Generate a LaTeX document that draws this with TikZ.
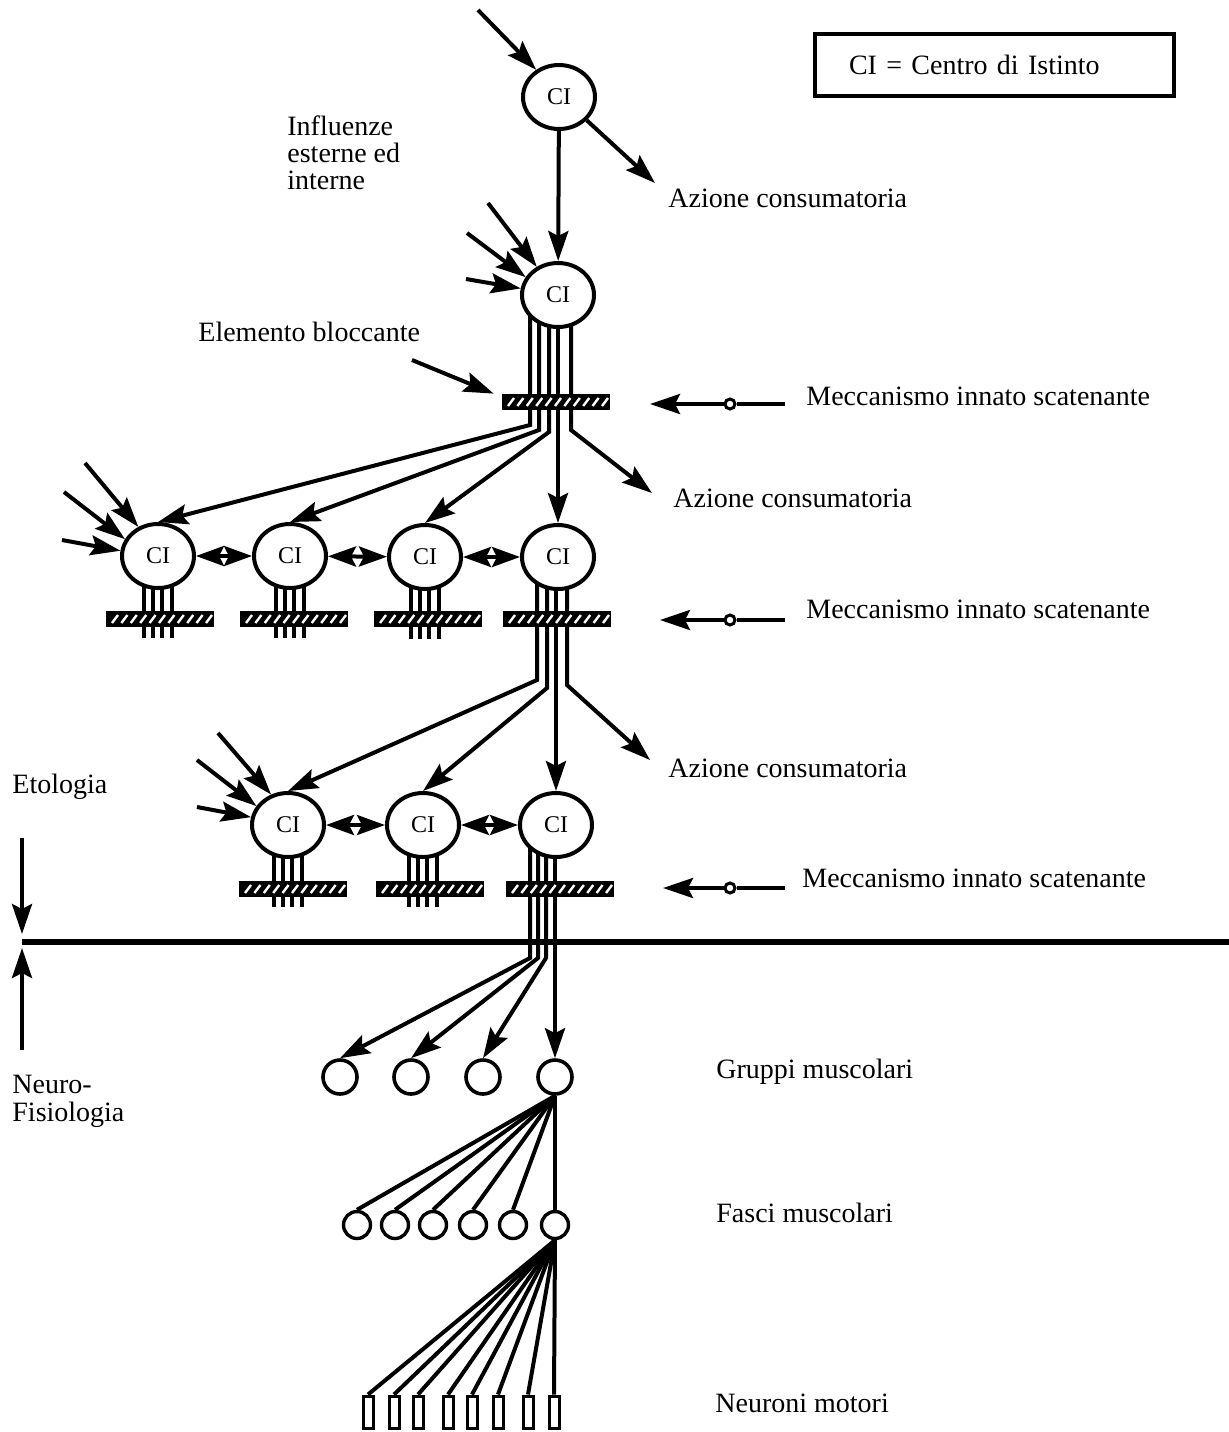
\documentclass[tikz,border=0pt]{standalone}
\usepackage{fontspec}
\setmainfont{Liberation Serif}
\usetikzlibrary{arrows.meta,shapes.geometric,backgrounds,calc}

\begin{document}
\begin{tikzpicture}[x=0.5pt,y=-0.5pt,
  font=\fontsize{14}{13.7}\selectfont,
  ci/.style={ellipse,draw,line width=2pt,fill=white,minimum width=36pt,minimum height=32pt,inner sep=0pt,font=\fontsize{12}{14}\selectfont},
  fibre/.style={line width=2pt},
  arr/.style={line width=2pt,-{Stealth[length=15pt,width=10pt,inset=2.5pt]}},
  twoway/.style={line width=2pt,{Stealth[length=14pt,width=10pt,inset=2.5pt]}-{Stealth[length=14pt,width=10pt,inset=2.5pt]}},
  bloc/.style={rectangle,fill=black,minimum width=54pt,minimum height=8pt,inner sep=0pt,
    path picture={\foreach \k in {0,...,10}
      \draw[white,line width=1.2pt] ([xshift=3pt+\k*4.7pt,yshift=2pt]path picture bounding box.south west) -- ++(3pt,4pt);}},
  lab/.style={anchor=base west,inner sep=0pt},
  knob/.style={circle,draw,line width=1.5pt,fill=white,minimum size=5pt,inner sep=0pt},
  muscle/.style={circle,draw,line width=1.8pt,minimum size=17pt,inner sep=0pt},
  fascio/.style={circle,draw,line width=1.7pt,minimum size=13.5pt,inner sep=0pt},
  motor/.style={rectangle,draw,line width=1.5pt,minimum width=5pt,minimum height=16pt,inner sep=0pt}
]
\useasboundingbox (0,0) rectangle (1229,1432);

% Legend
\node[draw,line width=2pt,text width=145.5pt,inner xsep=17pt,minimum height=31pt,anchor=west,align=left] (legend) at (813,65) {CI =\ Centro di Istinto};

% --- Centres of instinct ---
\node[ci] (ci1) at (559,97) {CI};
\node[ci] (ci2) at (558,295) {CI};

\node[ci] (r2a) at (158,556) {CI};
\node[ci] (r2b) at (290,556) {CI};
\node[ci] (r2c) at (425,557) {CI};
\node[ci] (r2d) at (558,557) {CI};

\node[ci] (r3a) at (288,825) {CI};
\node[ci] (r3b) at (423,825) {CI};
\node[ci] (r3c) at (556,825) {CI};

% Blocking elements
\node[bloc] (bar2) at (556,402) {};
\node[bloc] (b2a) at (160,619) {};
\node[bloc] (b2b) at (294,619) {};
\node[bloc] (b2c) at (428,619) {};
\node[bloc] (b2d) at (557,619) {};
\node[bloc] (b3a) at (293,889) {};
\node[bloc] (b3b) at (430,889) {};
\node[bloc] (b3c) at (560,889) {};

% Muscles and motor neurons
\node[muscle] (m1) at (340,1077) {};
\node[muscle] (m2) at (411,1077) {};
\node[muscle] (m3) at (483,1077) {};
\node[muscle] (m4) at (555,1077) {};

\foreach \i/\x in {1/357,2/395,3/433,4/473,5/513,6/555}
  \node[fascio] (f\i) at (\x,1225) {};

\foreach \i/\x in {1/368,2/394,3/418,4/448,5/472,6/498,7/528,8/554}
  \node[motor] (n\i) at (\x,1412) {};

% Labels
\node[anchor=north west,inner sep=0pt,align=left] (infl) at (287,115) {Influenze\\esterne ed\\interne};
\node[lab] (az1) at (668,207) {Azione consumatoria};
\node[lab] (eb) at (198,341) {Elemento bloccante};
\node[lab] (mis1) at (806,405) {Meccanismo innato scatenante};
\node[lab] (az2) at (673,507) {Azione consumatoria};
\node[lab] (mis2) at (806,618) {Meccanismo innato scatenante};
\node[lab] (az3) at (668,777) {Azione consumatoria};
\node[lab] (eto) at (12,793) {Etologia};
\node[lab] (mis3) at (802,887) {Meccanismo innato scatenante};
\node[anchor=north west,inner sep=0pt,align=left] (neuro) at (12,1075) {Neuro-\\Fisiologia};
\node[lab] (gm) at (716,1078) {Gruppi muscolari};
\node[lab] (fm) at (716,1222) {Fasci muscolari};
\node[lab] (nm) at (715,1412) {Neuroni motori};

% Free ends
\coordinate (in1) at (478,10);
\coordinate (in2a) at (488,203);
\coordinate (in2b) at (467,233);
\coordinate (in2c) at (466,279);
\coordinate (in3a) at (85,463);
\coordinate (in3b) at (64,492);
\coordinate (in3c) at (62,540);
\coordinate (in4a) at (218,733);
\coordinate (in4b) at (197,760);
\coordinate (in4c) at (197,807);
\coordinate (az1tip) at (655,183);
\coordinate (az2tip) at (652,493);
\coordinate (az3tip) at (650,760);
\coordinate (ebst) at (412,360);
\coordinate (sepL) at (22,942);
\coordinate (sepR) at (1229,942);
\coordinate (etoTop) at (22,838);
\coordinate (neuBot) at (22,1050);

% Inputs
\draw[arr] (in1) -- (ci1.130);
\draw[arr] (in2a) -- (ci2.127);
\draw[arr] (in2b) -- (ci2.151);
\draw[arr] (in2c) -- (ci2.170);
\draw[arr] (in3a) -- (r2a.124);
\draw[arr] (in3b) -- (r2a.153);
\draw[arr] (in3c) -- (r2a.172);
\draw[arr] (in4a) -- (r3a.119);
\draw[arr] (in4b) -- (r3a.149);
\draw[arr] (in4c) -- (r3a.168);

\draw[arr] (ci1.-40) -- (az1tip);
\draw[arr] (ci1) -- (ci2);
\draw[arr] (ebst) -- ([xshift=-4pt]bar2.north west);

% Mutual links
\draw[twoway] (r2a) -- (r2b);
\draw[twoway] (r2b) -- (r2c);
\draw[twoway] (r2c) -- (r2d);
\draw[twoway] (r3a) -- (r3b);
\draw[twoway] (r3b) -- (r3c);

% Releasing mechanisms
\node[knob] (k1) at (730,404) {};
\node[knob] (k2) at (730,620) {};
\node[knob] (k3) at (730,888) {};
\coordinate (e1) at (785,404);
\coordinate (e2) at (785,620);
\coordinate (e3) at (785,888);
\coordinate (t1) at (650,404);
\coordinate (t2) at (660,620);
\coordinate (t3) at (663,888);
\foreach \i in {1,2,3} {
  \draw[fibre] (e\i) -- (k\i);
  \draw[arr] (k\i) -- (t\i);
}

% Level line
\draw[line width=3.3pt] (sepL) -- (sepR);
\draw[arr] (etoTop) -- ([yshift=4pt]sepL);
\draw[arr] (neuBot) -- ([yshift=-3pt]sepL);

% Fibres
\begin{scope}[on background layer]
\fill[white] (0,0) rectangle (1229,1432);
\draw[arr] ($(ci2)+(-28,0)$) -- ($(ci2)+(-28,130)$) -- (r2a.north);
\draw[arr] ($(ci2)+(-19,0)$) -- ($(ci2)+(-19,135)$) -- (r2b.north);
\draw[arr] ($(ci2)+(-9,0)$) -- ($(ci2)+(-9,137)$) -- (r2c.north);
\draw[arr] (ci2) -- (r2d.north);
\draw[arr] ($(ci2)+(13,0)$) -- ($(ci2)+(13,135)$) -- (az2tip);

\foreach \n in {r2a,r2b,r2c,r3a,r3b}
  \foreach \dx in {-14,-5,4,14}
    \draw[fibre] ($(\n)+(\dx,0)$) -- ++(0,82);

\draw[arr] ($(r2d)+(-21,0)$) -- ($(r2d)+(-21,123)$) -- (r3a.north);
\draw[arr] ($(r2d)+(-11,0)$) -- ($(r2d)+(-11,131)$) -- (r3b.north);
\draw[arr] ($(r2d)+(-2,0)$) -- (r3c.north);
\draw[arr] ($(r2d)+(9,0)$) -- ($(r2d)+(9,128)$) -- (az3tip);

\draw[arr] ($(r3c)+(-26,0)$) -- ($(r3c)+(-26,133)$) -- (m1.north);
\draw[arr] ($(r3c)+(-18,0)$) -- ($(r3c)+(-18,133)$) -- (m2.north);
\draw[arr] ($(r3c)+(-10,0)$) -- ($(r3c)+(-10,133)$) -- (m3.north);
\draw[arr] ($(r3c)+(-1,0)$) -- (m4.north);

\foreach \i in {1,...,6}
  \draw[fibre] (m4.south) -- (f\i.north);
\foreach \i in {1,...,8}
  \draw[fibre] (f6.south) -- (n\i.north);
\end{scope}

\end{tikzpicture}
\end{document}
